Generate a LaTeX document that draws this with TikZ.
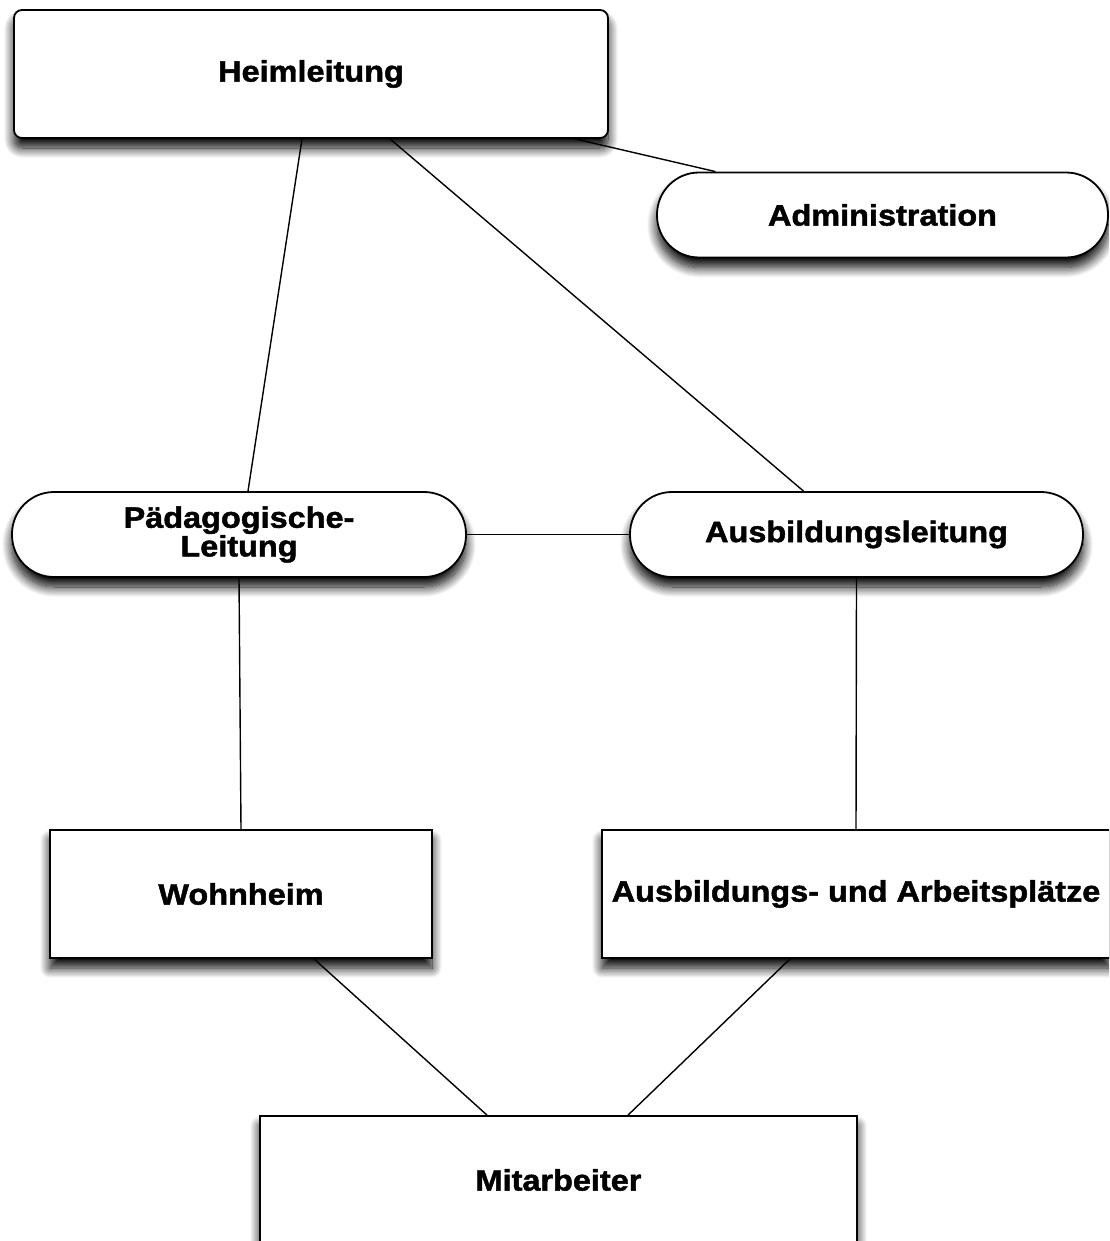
\documentclass[tikz,border=0pt]{standalone}
\usepackage{fontspec}
\setmainfont{Liberation Sans}
\newfontfamily\labelfont{Liberation Sans Bold}[FakeBold=1.6, FakeStretch=1.1]
\usetikzlibrary{shadows,shadows.blur}
\begin{document}
\begin{tikzpicture}[x=1pt,y=-1pt,
  base/.style={draw=black, line width=1.8pt, fill=white, align=center,
    font=\labelfont\fontsize{29.5}{25}\selectfont, inner sep=0pt,
    blur shadow={shadow xshift=0pt, shadow yshift=-10pt, shadow blur radius=10pt, shadow opacity=100, shadow blur steps=14}},
  boxnode/.style={base, rectangle},
  roundbox/.style={base, rectangle, rounded corners=8pt},
  pill/.style={base, rectangle, rounded corners=42pt, minimum height=85pt},
  link/.style={draw=black, line width=1.4pt}]
\useasboundingbox (0,0) rectangle (1109,1241);
\clip (0,0) rectangle (1109,1241);
\node[roundbox, minimum width=594pt, minimum height=128pt] (heim) at (311,74) {Heimleitung};
\node[pill, minimum width=451pt] (admin) at (882.5,215) {Administration};
\node[pill, minimum width=454pt] (paed) at (239,534.5) {Pädagogische-\\Leitung};
\node[pill, minimum width=453pt] (ausb) at (856.5,534.5) {Ausbildungsleitung};
\node[boxnode, minimum width=382pt, minimum height=128pt] (wohn) at (241,894) {Wohnheim};
\node[boxnode, minimum width=508pt, minimum height=128pt] (arb) at (856,894) {Ausbildungs- und Arbeitsplätze};
\node[boxnode, minimum width=597pt, minimum height=128pt] (mit) at (558.5,1180) {Mitarbeiter};
\draw[link] ([xshift=-9pt]heim.south) -- ([xshift=9pt]paed.north);
\draw[link] ([xshift=79pt]heim.south) -- ([xshift=-53pt]ausb.north);
\draw[link] ([xshift=264pt]heim.south) -- ([xshift=-167pt]admin.north);
\draw[link] (paed.east) -- (ausb.west);
\draw[link] (paed.south) -- (wohn.north);
\draw[link] (ausb.south) -- (arb.north);
\draw[link] ([xshift=73pt]wohn.south) -- ([xshift=-71.5pt]mit.north);
\draw[link] ([xshift=-66pt]arb.south) -- ([xshift=69.5pt]mit.north);
\end{tikzpicture}
\end{document}
